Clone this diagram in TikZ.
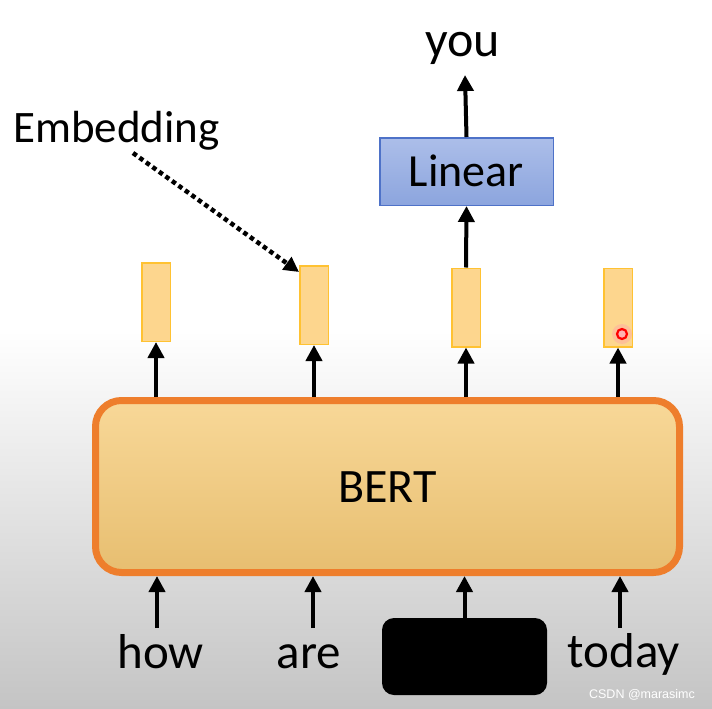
\documentclass[tikz,border=0pt]{standalone}
\usepackage{fontspec}
\setmainfont{Carlito}
\newfontfamily\wmfont{Liberation Sans}
\usetikzlibrary{arrows.meta}
\definecolor{bertorange}{RGB}{238,126,44}
\definecolor{bertTop}{RGB}{248,216,152}
\definecolor{bertBot}{RGB}{231,190,112}
\definecolor{embFill}{RGB}{253,214,142}
\definecolor{embBorder}{RGB}{255,194,50}
\definecolor{linTop}{RGB}{172,190,233}
\definecolor{linBot}{RGB}{140,165,222}
\definecolor{linBorder}{RGB}{78,114,200}
\definecolor{bggray}{RGB}{196,196,196}
\tikzset{
  bertbox/.style={draw=bertorange, line width=7pt, rounded corners=26pt,
    top color=bertTop, bottom color=bertBot, minimum width=584pt,
    minimum height=172pt, inner sep=0pt, font=\fontsize{48}{58}\selectfont,
    text height=31pt, text depth=0pt},
  embbox/.style={draw=embBorder, line width=1.5pt, fill=embFill,
    minimum width=28.5pt, minimum height=78.5pt, inner sep=0pt},
  linbox/.style={draw=linBorder, line width=1.5pt, top color=linTop,
    bottom color=linBot, minimum width=173.5pt, minimum height=67.5pt,
    inner sep=0pt, font=\fontsize{46}{56}\selectfont, text height=29.6pt,
    text depth=0pt},
  maskbox/.style={fill=black, rounded corners=12pt, minimum width=165pt,
    minimum height=77pt, inner sep=0pt},
  word/.style={anchor=base, inner sep=0pt, font=\fontsize{49}{58}\selectfont},
  arr/.style={line width=4pt, -{Triangle[width=16pt,length=16pt]}},
  dotarr/.style={line width=4.5pt, dash pattern=on 4.5pt off 3.5pt,
    -{Triangle[width=15pt,length=15pt]}},
}
\begin{document}
\begin{tikzpicture}[x=1pt,y=-1pt]
\useasboundingbox (0,0) rectangle (712,709);
\fill[white] (0,0) rectangle (712,709);
\shade[top color=white, bottom color=bggray] (0,330) rectangle (712,709);

% BERT
\node[bertbox] (bert) at (387.5,486.5) {BERT};

% embedding boxes
\node[embbox] (e1) at (156,302) {};
\node[embbox] (e2) at (314,305) {};
\node[embbox] (e3) at (466,307.5) {};
\node[embbox] (e4) at (618,307.5) {};

% Linear
\node[linbox] (lin) at (466.5,171.5) {Linear};

% texts
\node[word, font=\fontsize{50}{60}\selectfont] (you) at (462.5,57) {you};
\node[word, font=\fontsize{45}{54}\selectfont] (emb) at (116.5,142) {Embedding};
\node[word] (how) at (160.5,668) {how};
\node[word] (are) at (309,668) {are};
\node[word] (today) at (624,667) {today};
\node[maskbox] (mask) at (464.5,656.5) {};

% free ends
\coordinate (in1) at (157,628);
\coordinate (in2) at (313,628);
\coordinate (in4) at (620,628);
\coordinate (yout) at (465,75);
\coordinate (embstart) at (133,153);

% arrows
\draw[arr] (in1) -- (in1 |- bert.south);
\draw[arr] (in2) -- (in2 |- bert.south);
\draw[arr] (mask.north) -- (mask.north |- bert.south);
\draw[arr] (in4) -- (in4 |- bert.south);

\draw[arr] (e1.south |- bert.north) -- (e1.south);
\draw[arr] (e2.south |- bert.north) -- (e2.south);
\draw[arr] (e3.south |- bert.north) -- (e3.south);
\draw[arr] (e4.south |- bert.north) -- (e4.south);

\draw[arr] (e3.north) -- (lin.south);
\draw[arr] (lin.north) -- (yout);

\draw[dotarr] (embstart) -- ([yshift=-7pt]e2.north west);

% red pointer spot
\node[circle, fill=red!35, opacity=0.45, minimum size=20pt, inner sep=0pt] (glow) at (622,334) {};
\node[circle, draw=red, fill=white!70!red, line width=2.2pt, minimum size=10pt, inner sep=0pt] (spot) at (622,334) {};

% watermark
\node[anchor=base, inner sep=0pt, text=white, font=\wmfont\fontsize{12.5}{14}\selectfont] (wm) at (642,698) {CSDN @marasimc};
\end{tikzpicture}
\end{document}
